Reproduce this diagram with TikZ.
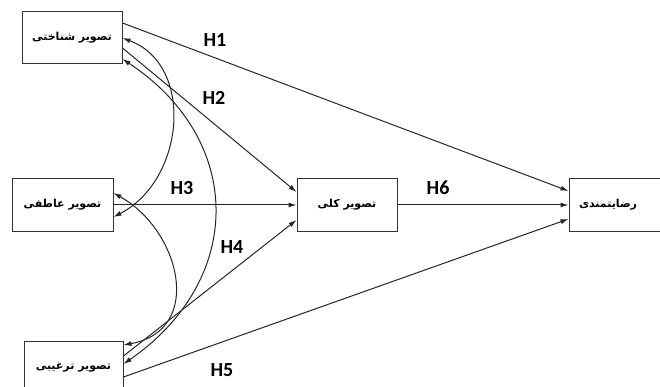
\documentclass[tikz,border=0pt]{standalone}
\usepackage{fontspec}
\setmainfont{Carlito}
\newfontfamily\fa[Script=Arabic]{DejaVu Sans}
\TeXXeTstate=1
\usetikzlibrary{arrows.meta,calc}
\begin{document}
\begin{tikzpicture}[x=1pt,y=-1pt,
  box/.style={draw=black!80, line width=1pt, minimum width=100pt, minimum height=52pt, inner sep=0pt, font=\fa\bfseries\fontsize{11}{12}\selectfont},
  conn/.style={draw=black!85, line width=1pt, -{Latex[length=8pt,width=5pt]}},
  corr/.style={draw=black!85, line width=1pt, {Latex[length=8pt,width=5pt]}-{Latex[length=8pt,width=5pt]}},
  hlab/.style={font=\bfseries\fontsize{20}{22}\selectfont, text=black}]
\useasboundingbox (0,0) rectangle (660,387);
\fill[white] (0,0) rectangle (660,387);
\begin{scope}
\clip (0,0) rectangle (660,387);
\node[box] (A) at (72,38) {\beginR تصویر شناختی\endR};
\node[box, minimum width=101pt] (B) at (62.5,205) {\beginR تصویر عاطفی\endR};
\node[box, minimum width=99pt] (C) at (73.5,367) {\beginR تصویر ترغیبی\endR};
\node[box] (D) at (347,205) {\beginR تصویر کلی\endR};
\node[box, minimum width=96pt] (E) at (617,205) {};
\end{scope}
\node[font=\fa\bfseries\fontsize{11}{12}\selectfont] (Et) at (608,205) {\beginR رضایتمندی\endR};

\draw[conn] ($(A.east)+(0,-15)$) -- ($(E.west)+(0,-14)$);
\draw[conn] ($(A.east)+(0,10)$) -- ($(D.west)+(0,-13)$);
\draw[conn] (B.east) -- (D.west);
\draw[conn] ($(C.east)+(0,-11)$) -- ($(D.west)+(0,15)$);
\draw[conn] ($(C.east)+(0,10)$) -- ($(E.west)+(0,14)$);
\draw[conn] (D.east) -- (E.west);

\draw[corr] (A.east) .. controls (195,65) and (185,180) .. ($(B.east)+(0,12)$);
\draw[corr] ($(B.east)+(0,-12)$) .. controls (180,230) and (205,330) .. ($(C.east)+(0,-22)$);
\draw[corr] ($(A.east)+(0,21)$) .. controls (245,140) and (245,280) .. ($(C.east)+(0,-3)$);

\node[hlab] (h1) at (215,40) {H1};
\node[hlab] (h2) at (214,98) {H2};
\node[hlab] (h3) at (182,188) {H3};
\node[hlab] (h4) at (232,247) {H4};
\node[hlab] (h5) at (222,370) {H5};
\node[hlab] (h6) at (438,188) {H6};
\end{tikzpicture}
\end{document}
